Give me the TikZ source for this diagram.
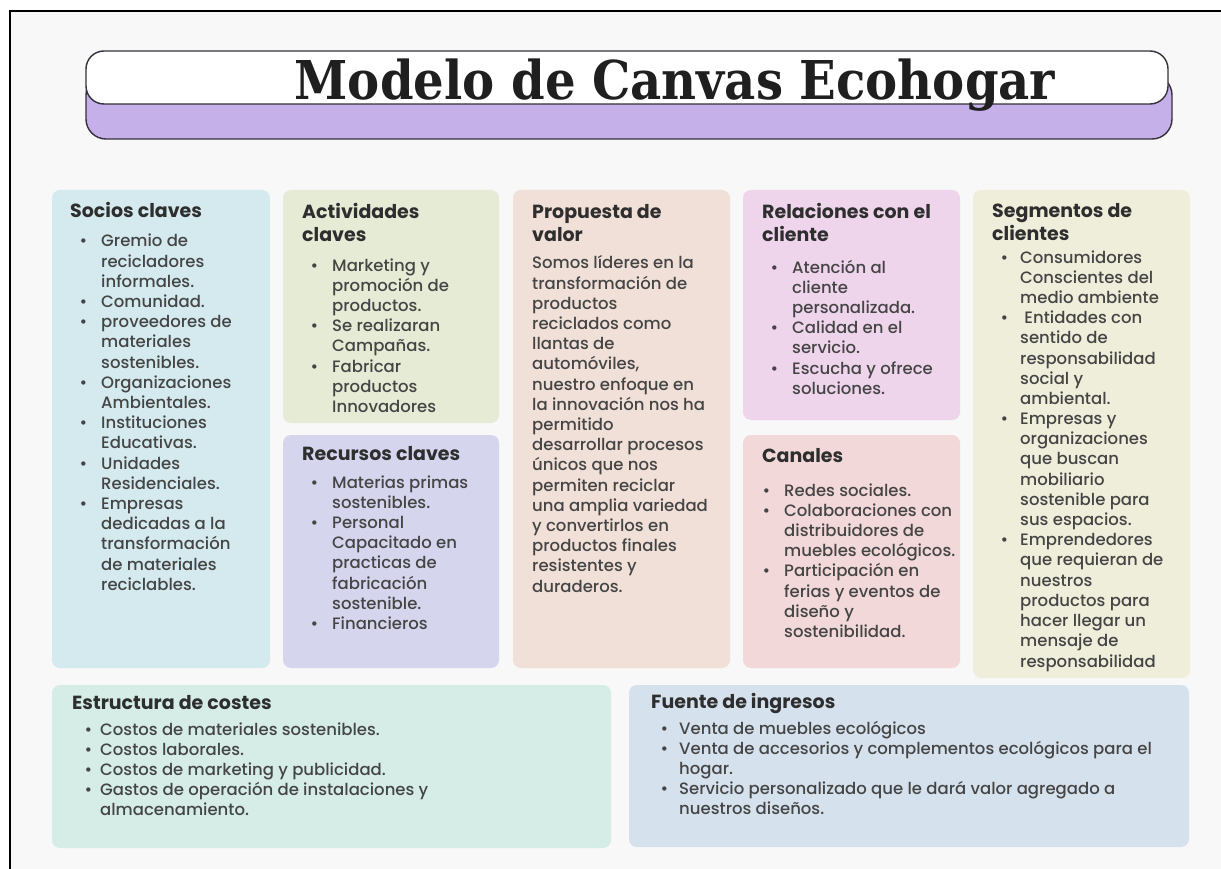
\documentclass[tikz,border=0pt]{standalone}
\usepackage{fontspec}
\setmainfont{Poppins}[UprightFont=* Medium, BoldFont=* Bold]
\newfontfamily\titlefont{DejaVu Serif Condensed}
\usetikzlibrary{calc,positioning}

\definecolor{pagebg}{HTML}{F8F8F8}
\definecolor{titlepurple}{HTML}{C6B0EA}
\definecolor{titleline}{HTML}{35303A}
\definecolor{headcol}{HTML}{2E2E2E}
\definecolor{bodycol}{HTML}{454545}
\definecolor{sociosfill}{HTML}{D4EAEE}
\definecolor{activfill}{HTML}{E6EBD5}
\definecolor{recurfill}{HTML}{D6D5EE}
\definecolor{propfill}{HTML}{F0E0D8}
\definecolor{relacfill}{HTML}{EFD5EC}
\definecolor{canalfill}{HTML}{F2D8D8}
\definecolor{segmfill}{HTML}{EFEEDB}
\definecolor{costfill}{HTML}{D5EDE6}
\definecolor{ingrfill}{HTML}{D5E1ED}

\newlength\bulpos
\newlength\txtpos
\newcommand\itm[1]{\par\hangindent=\txtpos\hangafter=1\noindent\makebox[\txtpos][l]{\hspace{\bulpos}\textbullet}#1}
\newcommand\lst[4]{\parbox[t]{#3}{\setlength\bulpos{#1}\setlength\txtpos{#2}#4}}

\tikzset{
    card/.style = {
        anchor = north west,
        rounded corners = 8pt,
        inner sep = 0pt,
        outer sep = 0pt,
        },
    head/.style = {
        anchor = base west,
        inner sep = 0pt,
        text = headcol,
        font = \fontsize{19}{23}\selectfont\bfseries,
        },
    list/.style = {
        anchor = base west,
        inner sep = 0pt,
        text = bodycol,
        font = \fontsize{16.5}{20.2}\selectfont,
        },
}

\begin{document}
\begin{tikzpicture}[x=1pt, y=-1pt]
    \useasboundingbox (0,0) rectangle (1221,869);
    \fill[white] (0,0) rectangle (1221,869);
    \fill[pagebg] (10,11) rectangle (1221,869);
    \draw[line width=1.6pt] (10,869) -- (10,11) -- (1221,11);

    % title banner
    \node[card, rounded corners=20pt, fill=titlepurple, draw=titleline, line width=1.4pt,
          minimum width=1086pt, minimum height=64pt] (titleback) at (86,75) {};
    \node[card, rounded corners=18pt, fill=white, draw=titleline, line width=1.4pt,
          minimum width=1082pt, minimum height=53pt] (titlebar) at (86,51) {};
    \node[anchor=base, inner sep=0pt, text=black!88] (title) at (675,100)
        {\titlefont\bfseries\fontsize{53.5}{60}\selectfont Modelo de Canvas Ecohogar};

    % cards
    \node[card, fill=sociosfill, minimum width=218pt, minimum height=478pt] (socios) at (52,190) {};
    \node[card, fill=activfill, minimum width=216pt, minimum height=233pt] (activ) at (283,190) {};
    \node[card, fill=recurfill, minimum width=216pt, minimum height=233pt] (recur) at (283,435) {};
    \node[card, fill=propfill, minimum width=217pt, minimum height=478pt] (prop) at (513,190) {};
    \node[card, fill=relacfill, minimum width=217pt, minimum height=230pt] (relac) at (743,190) {};
    \node[card, fill=canalfill, minimum width=217pt, minimum height=233pt] (canal) at (743,435) {};
    \node[card, fill=segmfill, minimum width=217pt, minimum height=488pt] (segm) at (973,190) {};
    \node[card, fill=costfill, minimum width=559pt, minimum height=163pt] (cost) at (52,685) {};
    \node[card, fill=ingrfill, minimum width=560pt, minimum height=162pt] (ingr) at (629,685) {};

    % Socios claves
    \node[head] (sociosH) at ($(socios.north west)+(18,28)$) {Socios claves};
    \node[list] (sociosL) at ($(socios.north west)+(18,57)$) {\lst{9.5pt}{31pt}{200pt}{%
        \itm{Gremio de\\recicladores\\informales.}
        \itm{Comunidad.}
        \itm{proveedores de\\materiales\\sostenibles.}
        \itm{Organizaciones\\Ambientales.}
        \itm{Instituciones\\Educativas.}
        \itm{Unidades\\Residenciales.}
        \itm{Empresas\\dedicadas a la\\transformación\\de materiales\\reciclables.}}};

    % Actividades claves
    \node[head] (activH) at ($(activ.north west)+(19,29)$) {\parbox[t]{190pt}{Actividades\\claves}};
    \node[list] (activL) at ($(activ.north west)+(19,81)$) {\lst{8.5pt}{30pt}{200pt}{%
        \itm{Marketing y\\promoción de\\productos.}
        \itm{Se realizaran\\Campañas.}
        \itm{Fabricar\\productos\\Innovadores}}};

    % Recursos claves
    \node[head] (recurH) at ($(recur.north west)+(19,25)$) {Recursos claves};
    \node[list] (recurL) at ($(recur.north west)+(19,53)$) {\lst{8.5pt}{30pt}{200pt}{%
        \itm{Materias primas\\sostenibles.}
        \itm{Personal\\Capacitado en\\practicas de\\fabricación\\sostenible.}
        \itm{Financieros}}};

    % Propuesta de valor
    \node[head] (propH) at ($(prop.north west)+(19,29)$) {\parbox[t]{190pt}{Propuesta de\\valor}};
    \node[list] (propL) at ($(prop.north west)+(19,79)$) {\parbox[t]{200pt}{%
        Somos líderes en la\\transformación de\\productos\\reciclados como\\llantas de\\automóviles,\\
        nuestro enfoque en\\la innovación nos ha\\permitido\\desarrollar procesos\\únicos que nos\\
        permiten reciclar\\una amplia variedad\\y convertirlos en\\productos finales\\resistentes y\\duraderos.}};

    % Relaciones con el cliente
    \node[head] (relacH) at ($(relac.north west)+(19,29)$) {\parbox[t]{190pt}{Relaciones con el\\cliente}};
    \node[list] (relacL) at ($(relac.north west)+(19,83)$) {\lst{8.5pt}{30pt}{200pt}{%
        \itm{Atención al\\cliente\\personalizada.}
        \itm{Calidad en el\\servicio.}
        \itm{Escucha y ofrece\\soluciones.}}};

    % Canales
    \node[head] (canalH) at ($(canal.north west)+(19,27)$) {Canales};
    \node[list] (canalL) at ($(canal.north west)+(19,61)$) {\lst{0.5pt}{22pt}{205pt}{%
        \itm{Redes sociales.}
        \itm{Colaboraciones con\\distribuidores de\\muebles ecológicos.}
        \itm{Participación en\\ferias y eventos de\\diseño y\\sostenibilidad.}}};

    % Segmentos de clientes
    \node[head] (segmH) at ($(segm.north west)+(19,28)$) {\parbox[t]{190pt}{Segmentos de\\clientes}};
    \node[list] (segmL) at ($(segm.north west)+(19,73)$) {\lst{8.5pt}{28pt}{200pt}{%
        \itm{Consumidores\\Conscientes del\\medio ambiente}
        \itm{\ Entidades con\\sentido de\\responsabilidad\\social y\\ambiental.}
        \itm{Empresas y\\organizaciones\\que buscan\\mobiliario\\sostenible para\\sus espacios.}
        \itm{Emprendedores\\que requieran de\\nuestros\\productos para\\hacer llegar un\\mensaje de\\responsabilidad}}};

    % Estructura de costes
    \node[head] (costH) at ($(cost.north west)+(20,24)$) {Estructura de costes};
    \node[list] (costL) at ($(cost.north west)+(20,50)$) {\lst{12.5pt}{28pt}{520pt}{%
        \itm{Costos de materiales sostenibles.}
        \itm{Costos laborales.}
        \itm{Costos de marketing y publicidad.}
        \itm{Gastos de operación de instalaciones y\\almacenamiento.}}};

    % Fuente de ingresos
    \node[head] (ingrH) at ($(ingr.north west)+(22,23)$) {Fuente de ingresos};
    \node[list] (ingrL) at ($(ingr.north west)+(22,49)$) {\lst{9.5pt}{28pt}{520pt}{%
        \itm{Venta de muebles ecológicos}
        \itm{Venta de accesorios y complementos ecológicos para el\\hogar.}
        \itm{Servicio personalizado que le dará valor agregado a\\nuestros diseños.}}};
\end{tikzpicture}
\end{document}
